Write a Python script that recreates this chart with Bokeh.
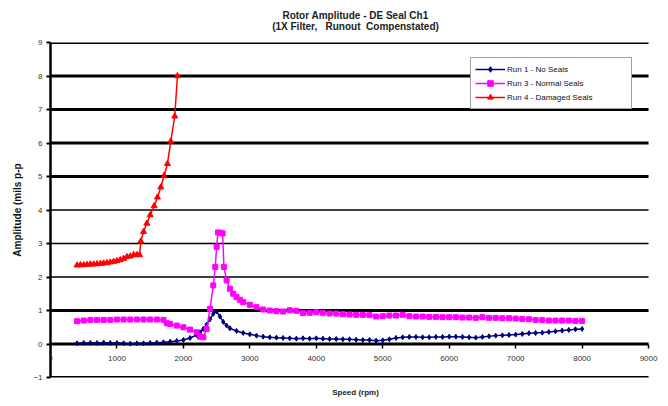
from bokeh.plotting import figure
from bokeh.models import Legend, LegendItem, Title, FixedTicker, Range1d, ColumnDataSource
from bokeh.embed import file_html
from bokeh.resources import INLINE

# ---------------- data ----------------
title_text = "Rotor Amplitude - DE Seal Ch1"
subtitle_text = "(1X Filter,   Runout  Compenstated)"
x_label = "Speed (rpm)"
y_label = "Amplitude (mils p-p"
x_ticks = [0, 1000, 2000, 3000, 4000, 5000, 6000, 7000, 8000, 9000]
y_ticks = [-1, 0, 1, 2, 3, 4, 5, 6, 7, 8, 9]

run1_name = "Run 1 - No Seals"
run1_rpm = [400, 500, 600, 700, 800, 900, 1000, 1100, 1200, 1300, 1400, 1500, 1600, 1700,
            1800, 1900, 2000, 2100, 2200, 2250, 2300, 2350, 2400, 2450, 2500, 2550, 2600,
            2650, 2700, 2800, 2900, 3000, 3100, 3200, 3300, 3400, 3500, 3600, 3700, 3800,
            3900, 4000, 4100, 4200, 4300, 4400, 4500, 4600, 4700, 4800, 4900, 5000, 5100,
            5200, 5300, 5400, 5500, 5600, 5700, 5800, 5900, 6000, 6100, 6200, 6300, 6400,
            6500, 6600, 6700, 6800, 6900, 7000, 7100, 7200, 7300, 7400, 7500, 7600, 7700,
            7800, 7900, 8000]
run1_amp = [0.02, 0.03, 0.03, 0.03, 0.04, 0.03, 0.03, 0.02, 0.01, 0.02, 0.02, 0.03, 0.04, 0.05,
            0.07, 0.09, 0.12, 0.18, 0.27, 0.35, 0.45, 0.58, 0.74, 0.90, 0.97, 0.82, 0.66,
            0.55, 0.47, 0.39, 0.33, 0.29, 0.25, 0.22, 0.20, 0.19, 0.18, 0.17, 0.16, 0.17,
            0.16, 0.17, 0.16, 0.15, 0.15, 0.14, 0.14, 0.13, 0.12, 0.12, 0.10, 0.11, 0.14,
            0.18, 0.20, 0.21, 0.21, 0.20, 0.20, 0.21, 0.21, 0.22, 0.22, 0.21, 0.20, 0.19,
            0.21, 0.23, 0.25, 0.26, 0.27, 0.28, 0.30, 0.32, 0.33, 0.34, 0.36, 0.38, 0.40,
            0.42, 0.44, 0.45]

run3_name = "Run 3 - Normal Seals"
run3_rpm = [400, 500, 600, 700, 800, 900, 1000, 1100, 1200, 1300, 1400, 1500, 1600, 1700,
            1750, 1800, 1900, 2000, 2100, 2200, 2250, 2300, 2350, 2400, 2450, 2480, 2500,
            2520, 2560, 2590, 2610, 2650, 2700, 2750, 2800, 2850, 2900, 3000, 3100, 3200,
            3300, 3400, 3500, 3600, 3700, 3800, 3900, 4000, 4100, 4200, 4300, 4400, 4500,
            4600, 4700, 4800, 4900, 5000, 5100, 5200, 5300, 5400, 5500, 5600, 5700, 5800,
            5900, 6000, 6100, 6200, 6300, 6400, 6500, 6600, 6700, 6800, 6900, 7000, 7100,
            7200, 7300, 7400, 7500, 7600, 7700, 7800, 7900, 8000]
run3_amp = [0.68, 0.70, 0.72, 0.72, 0.72, 0.72, 0.73, 0.73, 0.73, 0.73, 0.73, 0.73, 0.73, 0.72,
            0.62, 0.60, 0.55, 0.50, 0.43, 0.35, 0.22, 0.20, 0.45, 1.05, 1.75, 2.30, 2.90,
            3.33, 3.32, 3.30, 2.30, 1.90, 1.65, 1.50, 1.40, 1.32, 1.25, 1.17, 1.10, 1.03,
            1.00, 0.98, 0.97, 1.01, 0.99, 0.92, 0.93, 0.95, 0.93, 0.91, 0.91, 0.89, 0.88,
            0.87, 0.87, 0.86, 0.82, 0.83, 0.85, 0.85, 0.87, 0.83, 0.82, 0.82, 0.81, 0.81,
            0.80, 0.80, 0.80, 0.79, 0.79, 0.78, 0.80, 0.78, 0.78, 0.77, 0.77, 0.76, 0.75,
            0.74, 0.72, 0.71, 0.70, 0.70, 0.70, 0.70, 0.69, 0.69]

run4_name = "Run 4 - Damaged Seals"
run4_rpm = [400, 450, 500, 550, 600, 650, 700, 750, 800, 850, 900, 950, 1000, 1050, 1100,
            1150, 1200, 1250, 1300, 1340, 1360, 1400, 1450, 1500, 1560, 1610, 1660, 1710,
            1760, 1810, 1870, 1910]
run4_amp = [2.35, 2.36, 2.36, 2.37, 2.38, 2.38, 2.39, 2.40, 2.41, 2.42, 2.44, 2.46, 2.48, 2.51,
            2.55, 2.60, 2.62, 2.66, 2.66, 2.66, 3.07, 3.35, 3.60, 3.85, 4.12, 4.38, 4.68, 5.03,
            5.38, 6.05, 6.80, 8.00]

# ---------------- styling ----------------
FONT = "Liberation Sans"
NBSP = "\u00a0"
thick_levels = {-1, 0, 1, 5, 6, 7, 8, 9}
X_PAD_RIGHT = 180  # room to the right of the last tick so its label is not clipped

p = figure(width=668, height=406, output_backend="svg", toolbar_location=None,
           x_range=Range1d(x_ticks[0], x_ticks[-1] + X_PAD_RIGHT),
           y_range=Range1d(y_ticks[0], y_ticks[-1]),
           min_border_left=50, min_border_right=8, min_border_top=42, min_border_bottom=29)
p.outline_line_color = None
p.background_fill_color = "white"
p.border_fill_color = "white"
p.xgrid.visible = False
p.ygrid.visible = False

# horizontal gridlines spanning the x tick range
grid_src = ColumnDataSource(dict(
    x0=[x_ticks[0]] * len(y_ticks),
    x1=[x_ticks[-1]] * len(y_ticks),
    y=y_ticks,
    w=[3 if lvl in thick_levels else 1.5 for lvl in y_ticks],
))
p.segment(x0="x0", y0="y", x1="x1", y1="y", line_width="w", line_color="black",
          source=grid_src)

# titles
p.add_layout(Title(text=subtitle_text.replace(" ", NBSP), align="center", text_font=FONT,
                   text_font_size="10px", text_font_style="bold", text_color="#222222",
                   standoff=21, offset=-14), "above")
p.add_layout(Title(text=title_text, align="center", text_font=FONT, text_font_size="10px",
                   text_font_style="bold", text_color="#222222", standoff=-24,
                   offset=-30), "above")
p.add_layout(Title(text=x_label, align="center", text_font=FONT, text_font_size="8px",
                   text_font_style="bold", text_color="#222222", standoff=17,
                   offset=-8), "below")

# axes
xa = p.xaxis[0]
xa.fixed_location = 0
xa.ticker = FixedTicker(ticks=x_ticks)
xa.axis_line_color = None
xa.major_tick_line_color = "black"
xa.major_tick_line_width = 1.5
xa.major_tick_out = 4
xa.major_tick_in = 0
xa.minor_tick_line_color = None
xa.major_label_standoff = 8
xa.major_label_text_font = FONT
xa.major_label_text_font_size = "8px"
xa.major_label_text_color = "#333333"

ya = p.yaxis[0]
ya.ticker = FixedTicker(ticks=y_ticks)
ya.axis_line_color = "black"
ya.axis_line_width = 2.5
ya.major_tick_out = 4
ya.major_tick_in = 0
ya.major_tick_line_width = 2
ya.minor_tick_line_color = None
ya.major_label_standoff = 4
ya.major_label_text_font = FONT
ya.major_label_text_font_size = "8px"
ya.major_label_text_color = "#333333"
ya.axis_label = y_label
ya.axis_label_text_font = FONT
ya.axis_label_text_font_size = "10px"
ya.axis_label_text_font_style = "bold"
ya.axis_label_text_color = "#111111"
ya.axis_label_standoff = 7

# series
l1 = p.line(run1_rpm, run1_amp, line_color="#000080", line_width=1.5)
m1 = p.scatter(run1_rpm, run1_amp, marker="diamond", size=5, fill_color="#000080",
               line_color="#000080")
l3 = p.line(run3_rpm, run3_amp, line_color="#FF00FF", line_width=1.5)
m3 = p.scatter(run3_rpm, run3_amp, marker="square", size=5, fill_color="#FF00FF",
               line_color="#FF00FF")
l4 = p.line(run4_rpm, run4_amp, line_color="#FF0000", line_width=1.5)
m4 = p.scatter(run4_rpm, run4_amp, marker="triangle", size=6, fill_color="#FF0000",
               line_color="#FF0000")

legend = Legend(items=[LegendItem(label=run1_name, renderers=[l1, m1]),
                       LegendItem(label=run3_name, renderers=[l3, m3]),
                       LegendItem(label=run4_name, renderers=[l4, m4])],
                location=(420, 268), padding=4, spacing=0, margin=0,
                glyph_width=30, glyph_height=14, label_height=14, label_width=120,
                label_standoff=2, label_text_font=FONT, label_text_font_size="8px",
                label_text_color="#111111", border_line_color="#444444",
                border_line_width=1, background_fill_color="white", background_fill_alpha=1)
p.add_layout(legend, "center")

open("out.html", "w").write(file_html(p, INLINE))
